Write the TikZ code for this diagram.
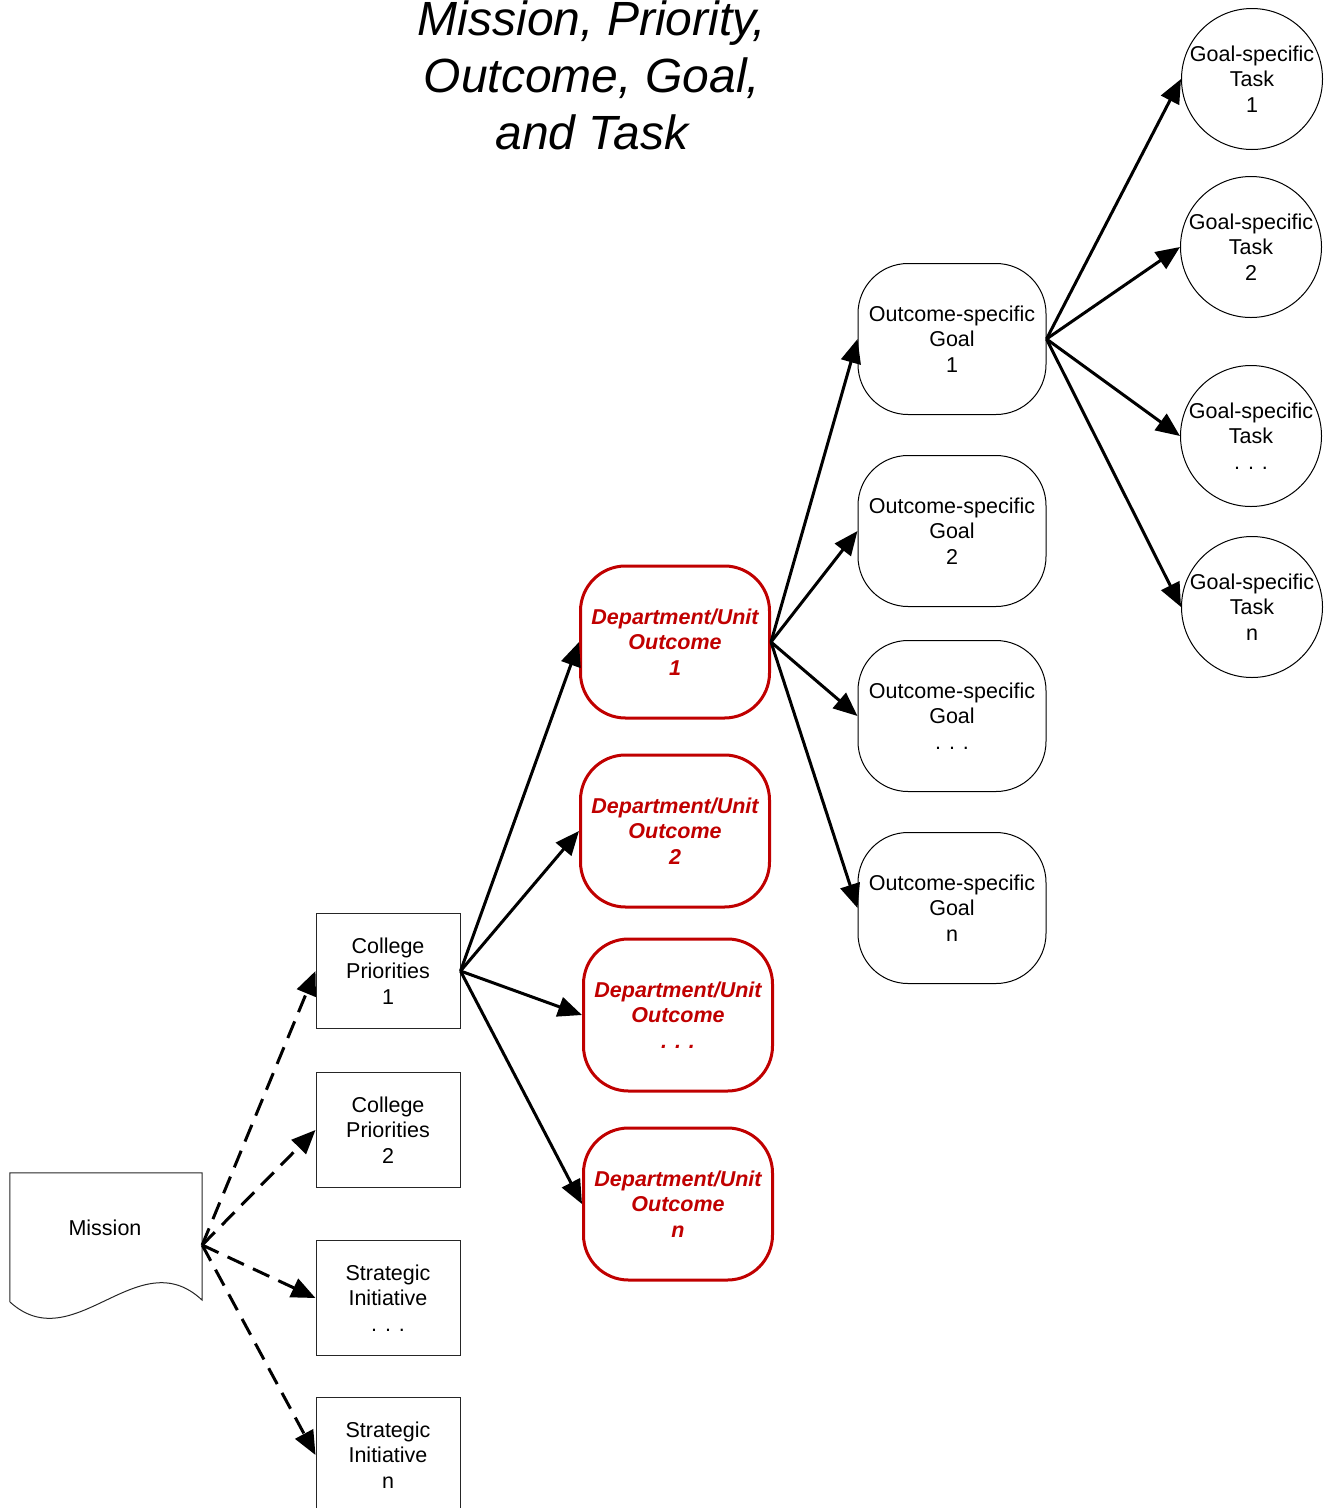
\documentclass[tikz,border=0pt]{standalone}
\usepackage{fontspec}
\setmainfont{Liberation Sans}
\usetikzlibrary{arrows.meta}
\definecolor{outred}{HTML}{C00000}

\begin{document}
\begin{tikzpicture}[x=1pt, y=-1pt,
    txt/.style={font=\fontsize{21.5}{25.5}\selectfont, align=center, inner sep=0pt},
    prio/.style={txt, rectangle, draw=black!85, line width=1pt,
                 minimum width=144pt, minimum height=115pt},
    outc/.style={txt, rectangle, rounded corners=45pt, draw=outred, line width=3pt,
                 minimum width=189pt, minimum height=152pt, text=outred,
                 font=\fontsize{21.5}{25.5}\selectfont\bfseries\itshape},
    goal/.style={txt, rectangle, rounded corners=50pt, draw, line width=1pt,
                 minimum width=188pt, minimum height=151pt},
    task/.style={txt, circle, draw, line width=1pt, minimum size=141pt},
    link/.style={line width=3pt, -{Triangle[length=24pt, width=20pt]}},
    dlink/.style={link, dash pattern=on 18pt off 10pt}]
  \useasboundingbox (0,0) rectangle (1330,1508);

  \node[font=\fontsize{48}{57}\selectfont\itshape, align=center] (title) at (592,75)
    {Mission, Priority,\\Outcome, Goal,\\and Task};

  % mission document
  \node[minimum width=192pt, minimum height=144pt, inner sep=0pt] (mission) at (106,1245) {};
  \draw[line width=1pt, draw=black!85] (mission.north west) -- (mission.north east) -- (202,1300)
    .. controls (138,1240) and (74,1360) .. (10,1302) -- cycle;
  \node[txt] (missiontxt) at (105,1228) {Mission};

  % priorities and initiatives
  \foreach \n/\y/\lab in {1/971/{College\\Priorities\\1}, 2/1130/{College\\Priorities\\2},
      3/1298/{Strategic\\Initiative\\. . .}, 4/1455/{Strategic\\Initiative\\n}}
    \node[prio] (prio\n) at (388,\y) {\lab};

  % outcomes
  \foreach \n/\x/\y/\lab in {1/675/642/1, 2/675/831/2, 3/678/1015/{. . .}, 4/678/1204/n}
    \node[outc] (out\n) at (\x,\y) {Department/Unit\\Outcome\\\lab};

  % goals
  \foreach \n/\y/\lab in {1/339/1, 2/531/2, 3/716/{. . .}, 4/908/n}
    \node[goal] (goal\n) at (952,\y) {Outcome-specific\\Goal\\\lab};

  % tasks
  \foreach \n/\x/\y/\lab in {1/1252/79/1, 2/1251/247/2, 3/1251/436/{. . .}, 4/1252/607/n}
    \node[task] (task\n) at (\x,\y) {Goal-specific\\Task\\\lab};

  % connectors
  \foreach \n in {1,...,4} {
    \draw[dlink] (mission.east) -- (prio\n.west);
    \draw[link] (prio1.east) -- (out\n.west);
    \draw[link] (out1.east) -- (goal\n.west);
    \draw[link] (goal1.east) -- (task\n.west);
  }
\end{tikzpicture}
\end{document}
